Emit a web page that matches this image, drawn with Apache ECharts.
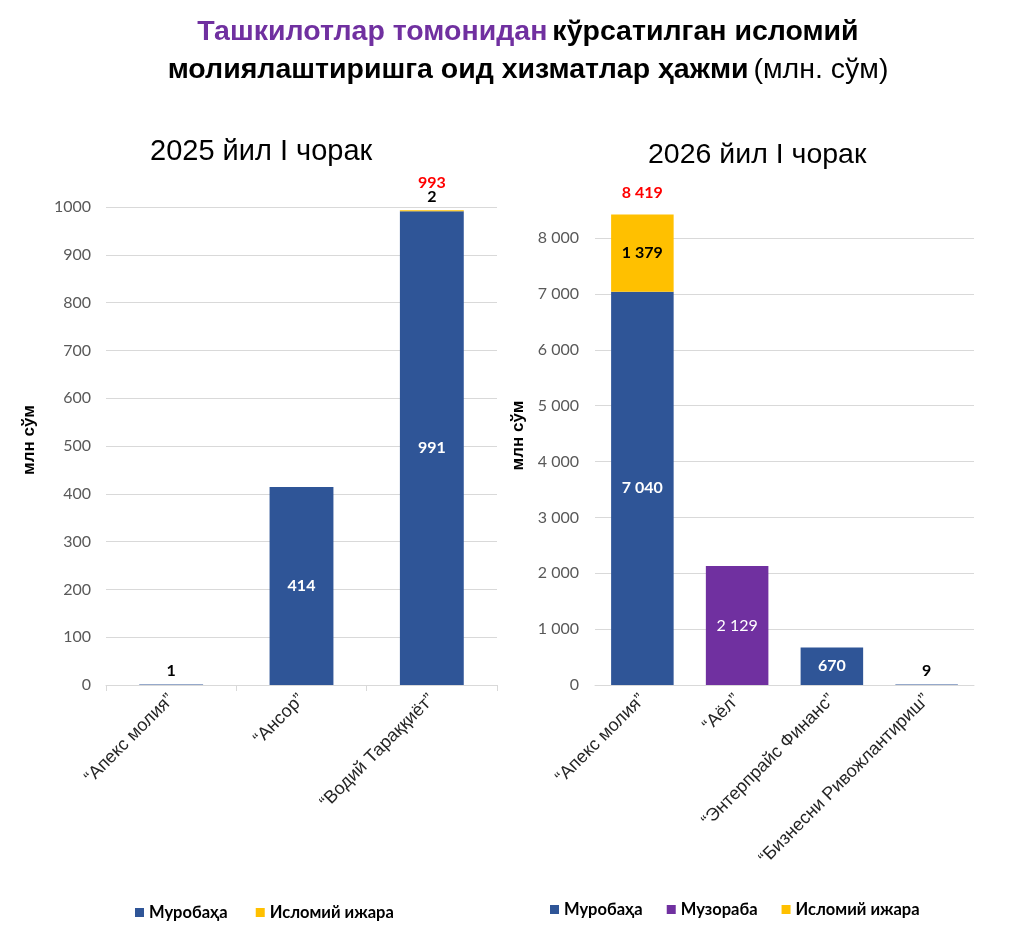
<!DOCTYPE html>
<html>
<head>
<meta charset="utf-8">
<script src="https://cdn.jsdelivr.net/npm/echarts@6/dist/echarts.min.js"></script>
<style>
  html, body { margin: 0; padding: 0; background: #fff; }
  #chart { width: 1024px; height: 952px; }
</style>
</head>
<body>
<div id="chart"></div>
<script>
// 2025 data
var cats25 = ['“Апекс молия”', '“Ансор”', '“Водий Тараққиёт”'];
var muro25 = [1, 414, 991];
var ijara25 = [0, 0, 2];
var total25 = [null, null, 993];

// 2026 data
var cats26 = ['“Апекс молия”', '“Аёл”', '“Энтерпрайс Финанс”', '“Бизнесни Ривожлантириш”'];
var muro26 = [7040, 0, 670, 9];
var muzor26 = [0, 2129, 0, 0];
var ijara26 = [1379, 0, 0, 0];
var total26 = [8419, null, null, null];

var BLUE = '#2F5597', PURPLE = '#7030A0', YELLOW = '#FFC000';
var numFont = 'Lato';

function fmt(v) {
  return String(v).replace(/\B(?=(\d{3})+(?!\d))/g, ' ');
}

// small bars get their label above in black, big ones inside in white
function barData(values, limit, insideColor, weight) {
  return values.map(function (v) {
    if (v === 0) return { value: 0, label: { show: false } };
    if (v < limit) {
      return { value: v, label: { show: true, position: 'top', distance: 6, color: '#000', fontWeight: 'bold' } };
    }
    return { value: v, label: { show: true, position: 'inside', color: insideColor, fontWeight: weight } };
  });
}

function totalSeries(totals, xi, gap, dist) {
  return {
    name: 'total', type: 'bar', stack: 's' + xi, xAxisIndex: xi, yAxisIndex: xi,
    barCategoryGap: gap, clip: false, silent: true,
    itemStyle: { color: 'transparent' },
    data: totals.map(function () { return 0; }),
    label: {
      show: true, position: 'top', distance: dist, color: '#FF0000',
      fontFamily: numFont, fontWeight: 'bold', fontSize: 16,
      formatter: function (p) { return totals[p.dataIndex] == null ? '' : fmt(totals[p.dataIndex]); }
    }
  };
}

var baseLabel = { fontFamily: numFont, fontSize: 16, formatter: function (p) { return fmt(p.value); } };
var catLabel = { rotate: 45, interval: 0, fontSize: 18, color: '#262626', fontFamily: 'Liberation Sans', margin: 12 };
var nameStyle = { fontFamily: 'Liberation Sans', fontWeight: 'bold', fontSize: 17, color: '#000' };
var legendText = { fontFamily: 'Lato', fontWeight: 'bold', fontSize: 16.5, color: '#000' };

var chart = echarts.init(document.getElementById('chart'));

var option = {
  backgroundColor: '#fff',
  animation: false,
  title: [
    {
      left: 523, top: 8, textAlign: 'center',
      text: '{p|Ташкилотлар томонидан} {b|кўрсатилган исломий}\n{b|молиялаштиришга оид хизматлар ҳажми} {n|(млн. сўм)}',
      textStyle: {
        rich: {
          p: { color: PURPLE, fontWeight: 'bold', fontSize: 28.5, fontFamily: 'Liberation Sans', lineHeight: 38 },
          b: { color: '#000', fontWeight: 'bold', fontSize: 28.5, fontFamily: 'Liberation Sans', lineHeight: 38 },
          n: { color: '#000', fontWeight: 'normal', fontSize: 28.5, fontFamily: 'Liberation Sans', lineHeight: 38 }
        }
      }
    },
    { text: '2025 йил I чорак', left: 145, top: 132, textStyle: { fontSize: 29, fontWeight: 'normal', color: '#000', fontFamily: 'Liberation Sans' } },
    { text: '2026 йил I чорак', left: 643, top: 136, textStyle: { fontSize: 28.5, fontWeight: 'normal', color: '#000', fontFamily: 'Liberation Sans' } }
  ],
  legend: [
    {
      left: 130, top: 899, itemWidth: 9, itemHeight: 9, itemGap: 28, icon: 'rect',
      data: ['Муробаҳа', 'Исломий ижара'], textStyle: legendText
    },
    {
      left: 545, top: 896, itemWidth: 9, itemHeight: 9, itemGap: 24, icon: 'rect',
      data: ['Муробаҳа', 'Музораба', 'Исломий ижара'], textStyle: legendText
    }
  ],
  grid: [
    { left: 106, right: 527, top: 207, bottom: 267 },
    { left: 595, right: 50, top: 238, bottom: 267 }
  ],
  xAxis: [
    {
      type: 'category', gridIndex: 0, data: cats25,
      axisLine: { lineStyle: { color: '#D9D9D9' } },
      axisTick: { show: true, length: 6, lineStyle: { color: '#D9D9D9' } },
      axisLabel: catLabel
    },
    {
      type: 'category', gridIndex: 1, data: cats26,
      axisLine: { lineStyle: { color: '#D9D9D9' } },
      axisTick: { show: false },
      axisLabel: catLabel
    }
  ],
  yAxis: [
    {
      type: 'value', gridIndex: 0, min: 0, max: 1000, interval: 100,
      name: 'млн сўм', nameLocation: 'middle', nameGap: 68,
      nameTextStyle: Object.assign({ padding: [0, 0, 0, 12] }, nameStyle),
      axisLine: { show: false }, axisTick: { show: false },
      splitLine: { lineStyle: { color: '#D9D9D9' } },
      axisLabel: { fontSize: 16, color: '#595959', fontFamily: numFont, margin: 15, formatter: function (v) { return String(v); } }
    },
    {
      type: 'value', gridIndex: 1, min: 0, max: 8000, interval: 1000,
      name: 'млн сўм', nameLocation: 'middle', nameGap: 68,
      nameTextStyle: Object.assign({ padding: [0, 0, 0, 52] }, nameStyle),
      axisLine: { show: false }, axisTick: { show: false },
      splitLine: { lineStyle: { color: '#D9D9D9' } },
      axisLabel: { fontSize: 16, color: '#595959', fontFamily: numFont, margin: 16, formatter: function (v) { return fmt(v); } }
    }
  ],
  series: [
    {
      name: 'Муробаҳа', type: 'bar', stack: 's0', xAxisIndex: 0, yAxisIndex: 0,
      barCategoryGap: '51%', itemStyle: { color: BLUE },
      label: baseLabel, data: barData(muro25, 50, '#fff', 'bold')
    },
    {
      name: 'Исломий ижара', type: 'bar', stack: 's0', xAxisIndex: 0, yAxisIndex: 0,
      barCategoryGap: '51%', itemStyle: { color: YELLOW },
      label: baseLabel, data: barData(ijara25, 50, '#000', 'bold')
    },
    totalSeries(total25, 0, '51%', 20),
    {
      name: 'Муробаҳа', type: 'bar', stack: 's1', xAxisIndex: 1, yAxisIndex: 1, clip: false,
      barCategoryGap: '34%', itemStyle: { color: BLUE },
      label: baseLabel, data: barData(muro26, 300, '#fff', 'bold')
    },
    {
      name: 'Музораба', type: 'bar', stack: 's1', xAxisIndex: 1, yAxisIndex: 1, clip: false,
      barCategoryGap: '34%', itemStyle: { color: PURPLE },
      label: baseLabel, data: barData(muzor26, 300, '#fff', 'normal')
    },
    {
      name: 'Исломий ижара', type: 'bar', stack: 's1', xAxisIndex: 1, yAxisIndex: 1, clip: false,
      barCategoryGap: '34%', itemStyle: { color: YELLOW },
      label: baseLabel, data: barData(ijara26, 300, '#000', 'bold')
    },
    totalSeries(total26, 1, '34%', 14)
  ]
};

chart.setOption(option);
</script>
</body>
</html>
